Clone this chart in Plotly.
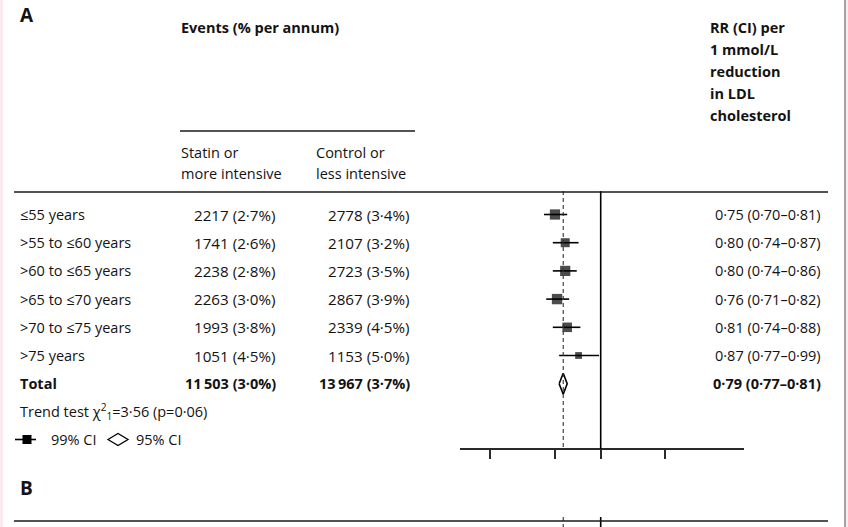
import math
import plotly.graph_objects as go

# ---------------- data ----------------
subgroups = ["≤55 years", ">55 to ≤60 years", ">60 to ≤65 years",
             ">65 to ≤70 years", ">70 to ≤75 years", ">75 years"]
statin_events = [2217, 1741, 2238, 2263, 1993, 1051]
statin_pct = [2.7, 2.6, 2.8, 3.0, 3.8, 4.5]
control_events = [2778, 2107, 2723, 2867, 2339, 1153]
control_pct = [3.4, 3.2, 3.5, 3.9, 4.5, 5.0]
rr = [0.75, 0.80, 0.80, 0.76, 0.81, 0.87]
rr_lo = [0.70, 0.74, 0.74, 0.71, 0.74, 0.77]
rr_hi = [0.81, 0.87, 0.86, 0.82, 0.88, 0.99]

total_label = "Total"
total_statin_events = 11503
total_statin_pct = 3.0
total_control_events = 13967
total_control_pct = 3.7
total_rr = 0.79
total_rr_lo = 0.77
total_rr_hi = 0.81

trend_chi2 = 3.56
trend_p = 0.06

axis_ticks = [0.5, 0.75, 1, 1.5]

# ---------------- layout helpers ----------------
W, H = 848, 527
FONT = "Open Sans"
TXT = "#141213"
FS = 14.5
FS_NUM = 15.2
ROW0, STEP = 214.5, 28.2          # pixel centre of first row, row spacing
PX_PER_LN = 159.0                  # pixels per natural-log unit on the RR axis
X_ONE = 600.7                      # pixel position of RR = 1
AX_L, AX_R, AX_Y = 460, 744, 449   # axis line extent and height (pixels)


def px(x):
    return x / W


def py(y):
    return 1 - y / H


def dec(v, nd):
    return f"{v:.{nd}f}".replace(".", "·")


def count(n):
    s = str(n)
    if n >= 10000:
        s = s[:-3] + "\u2009" + s[-3:]
    return s


def ev(n, p):
    return f"{count(n)} ({dec(p, 1)}%)"


def ci(e, lo, hi):
    return f"{dec(e, 2)} ({dec(lo, 2)}–{dec(hi, 2)})"


fig = go.Figure()

# CI lines
xs, ys = [], []
for i, (lo, hi) in enumerate(zip(rr_lo, rr_hi)):
    xs += [lo, hi, None]
    ys += [i, i, None]
fig.add_trace(go.Scatter(x=xs, y=ys, mode="lines",
                         line=dict(color="black", width=1.6),
                         hoverinfo="skip", showlegend=False))

# squares sized by number of events
sizes = [0.145 * math.sqrt(s + c) for s, c in zip(statin_events, control_events)]
fig.add_trace(go.Scatter(x=rr, y=list(range(len(rr))), mode="markers",
                         marker=dict(symbol="square", size=sizes, color="black",
                                     line=dict(width=0)),
                         showlegend=False))

# total diamond
t = len(subgroups)
hd = 10.5 / STEP
fig.add_trace(go.Scatter(x=[total_rr_lo, total_rr, total_rr_hi, total_rr, total_rr_lo],
                         y=[t, t - hd, t, t + hd, t], mode="lines", fill="toself",
                         fillcolor="white", line=dict(color="black", width=1.6),
                         showlegend=False))

shapes = []
# vertical reference lines
for (y0, y1) in [(191, AX_Y), (517, H)]:
    shapes.append(dict(type="line", xref="x", yref="paper", x0=1, x1=1,
                       y0=py(y0), y1=py(y1), line=dict(color="black", width=1.6)))
    shapes.append(dict(type="line", xref="x", yref="paper", x0=total_rr, x1=total_rr,
                       y0=py(y0), y1=py(y1), line=dict(color="#333", width=1.1, dash="4px,3px")))

# horizontal rules
for (x0, x1, y, w) in [(14, 828, 192, 1.6), (180, 415, 131, 1.3), (14, 828, 521, 1.6)]:
    shapes.append(dict(type="line", xref="paper", yref="paper", x0=px(x0), x1=px(x1),
                       y0=py(y), y1=py(y), line=dict(color="#1a1a1a", width=w)))

# legend symbols
shapes.append(dict(type="line", xref="paper", yref="paper", x0=px(15), x1=px(36),
                   y0=py(439.5), y1=py(439.5), line=dict(color="black", width=1.6)))
shapes.append(dict(type="rect", xref="paper", yref="paper", x0=px(22.5), x1=px(31.5),
                   y0=py(435), y1=py(444), fillcolor="black", line=dict(width=0)))
shapes.append(dict(type="path", xref="paper", yref="paper",
                   path=f"M {px(108)},{py(439.5)} L {px(118)},{py(433.5)} L {px(128)},{py(439.5)} "
                        f"L {px(118)},{py(445.5)} Z",
                   line=dict(color="black", width=1.3), fillcolor="white"))

# page edges
shapes.append(dict(type="rect", xref="paper", yref="paper", x0=0, x1=px(3), y0=0, y1=1,
                   fillcolor="#f9eaf0", line=dict(width=0), layer="below"))
shapes.append(dict(type="rect", xref="paper", yref="paper", x0=px(845.5), x1=1, y0=0, y1=1,
                   fillcolor="#f7eef1", line=dict(width=0), layer="below"))
shapes.append(dict(type="line", xref="paper", yref="paper", x0=px(845), x1=px(845), y0=0, y1=1,
                   line=dict(color="#8e8187", width=1.5)))

ann = []


def add_text(text, x, y, anchor="left", size=FS, yref="paper", bold=False):
    if bold:
        text = f"<b>{text}</b>"
    ann.append(dict(text=text, x=px(x), y=(py(y) if yref == "paper" else y),
                    xref="paper", yref=yref, xanchor=anchor, yanchor="middle",
                    showarrow=False, font=dict(family=FONT, size=size, color=TXT)))


# headers
add_text("A", 18, 15, size=19, bold=True)
add_text("B", 18, 488, size=19, bold=True)
add_text("Events (% per annum)", 179, 27, bold=True)
add_text("Statin or", 179, 152)
add_text("more intensive", 179, 173)
add_text("Control or", 314, 152)
add_text("less intensive", 314, 173)
for txt, y in zip(["RR (CI) per", "1 mmol/L", "reduction", "in LDL", "cholesterol"],
                  [28, 50, 71, 93, 115]):
    add_text(txt, 708, y, bold=True)

# rows
for i, g in enumerate(subgroups):
    add_text(g, 18, i, yref="y")
    add_text(ev(statin_events[i], statin_pct[i]), 278, i, anchor="right", yref="y", size=FS_NUM)
    add_text(ev(control_events[i], control_pct[i]), 412, i, anchor="right", yref="y", size=FS_NUM)
    add_text(ci(rr[i], rr_lo[i], rr_hi[i]), 823, i, anchor="right", yref="y")

add_text(total_label, 18, t, yref="y", bold=True)
add_text(ev(total_statin_events, total_statin_pct), 278, t, anchor="right", yref="y", bold=True)
add_text(ev(total_control_events, total_control_pct), 412, t, anchor="right", yref="y", bold=True)
add_text(ci(total_rr, total_rr_lo, total_rr_hi), 823, t, anchor="right", yref="y", bold=True)

add_text(f"Trend test χ<sup>2</sup><sub>1</sub>={dec(trend_chi2, 2)} (p={dec(trend_p, 2)})",
         18, t + 1, yref="y")
add_text("99% CI", 49, 439.5)
add_text("95% CI", 134, 439.5)

x_lo = (AX_L - X_ONE) / PX_PER_LN / math.log(10)
x_hi = (AX_R - X_ONE) / PX_PER_LN / math.log(10)

fig.update_layout(
    width=W, height=H, margin=dict(l=0, r=0, t=0, b=0),
    paper_bgcolor="white", plot_bgcolor="rgba(0,0,0,0)",
    showlegend=False,
    xaxis=dict(type="log", domain=[px(AX_L), px(AX_R)], range=[x_lo, x_hi],
               anchor="free", position=py(AX_Y),
               showline=True, linecolor="#2a2a2a", linewidth=1.6,
               ticks="outside", ticklen=9, tickwidth=1.6, tickcolor="#2a2a2a",
               tickvals=axis_ticks, showticklabels=False,
               showgrid=False, zeroline=False, fixedrange=True),
    yaxis=dict(domain=[0, 1], range=[(H - ROW0) / STEP, -ROW0 / STEP],
               visible=False, showgrid=False, zeroline=False, fixedrange=True),
    shapes=shapes, annotations=ann,
)

fig.write_html("out.html", config={"displayModeBar": False},
               post_script="document.body.style.margin='0';document.body.style.overflow='hidden';")
